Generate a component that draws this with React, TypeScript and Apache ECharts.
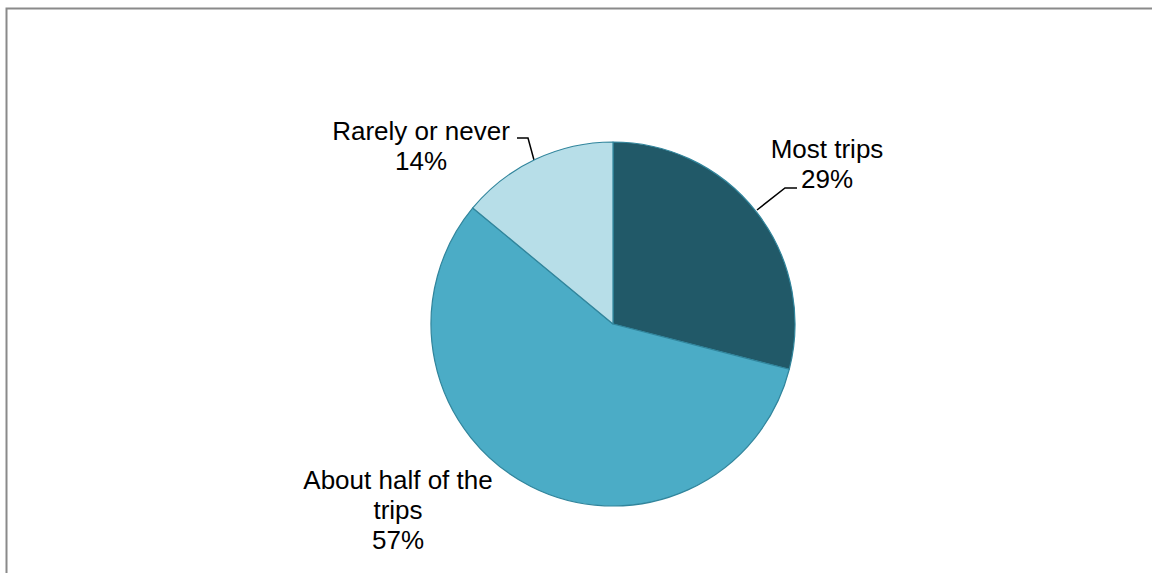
import React, { useEffect, useRef } from "react";
import * as echarts from "echarts";

const categories = ["Most trips", "About half of the\ntrips", "Rarely or never"];
const values = [29, 57, 14];
const percentLabels = ["29%", "57%", "14%"];
const sliceColors = ["#215968", "#4BACC6", "#B7DEE8"];

export default function App() {
  const ref = useRef<HTMLDivElement>(null);

  useEffect(() => {
    if (!ref.current) return;
    const chart = echarts.init(ref.current, undefined, { renderer: "svg" });

    const labelPos: Record<number, { x: number; y: number; line?: number[][] }> = {
      0: { x: 827, y: 164, line: [[757, 210], [785, 188], [797, 188]] },
      1: { x: 398, y: 510 },
      2: { x: 421, y: 146, line: [[534, 160], [528, 138], [517, 138]] },
    };

    chart.setOption({
      animation: false,
      backgroundColor: "#ffffff",
      graphic: [
        {
          type: "rect",
          shape: { x: 6.5, y: 8.5, width: 1300, height: 700 },
          style: { fill: "none", stroke: "#8a8a8a", lineWidth: 2 },
          silent: true,
        },
      ],
      series: [
        {
          type: "pie",
          center: [613, 324],
          radius: 182,
          startAngle: 90,
          clockwise: true,
          avoidLabelOverlap: false,
          itemStyle: { borderColor: "#31859C", borderWidth: 1.2 },
          label: {
            show: true,
            formatter: (p: any) => `${p.name}\n${percentLabels[p.dataIndex]}`,
            fontFamily: "Liberation Sans, Arial, sans-serif",
            fontSize: 26,
            lineHeight: 30,
            color: "#000000",
            align: "center",
          },
          labelLine: {
            show: true,
            lineStyle: { color: "#000000", width: 1.5 },
          },
          labelLayout: (params: any) => {
            const pos = labelPos[params.dataIndex];
            const out: any = {
              x: pos.x,
              y: pos.y,
              align: "center",
              verticalAlign: "middle",
            };
            if (pos.line) out.labelLinePoints = pos.line;
            return out;
          },
          data: categories.map((name, i) => ({
            name,
            value: values[i],
            itemStyle: { color: sliceColors[i] },
            labelLine: { show: i !== 1 },
          })),
        },
      ],
    });

    return () => chart.dispose();
  }, []);

  return (
    <div
      ref={ref}
      style={{ position: "fixed", left: 0, top: 0, width: 1152, height: 573 }}
    />
  );
}
